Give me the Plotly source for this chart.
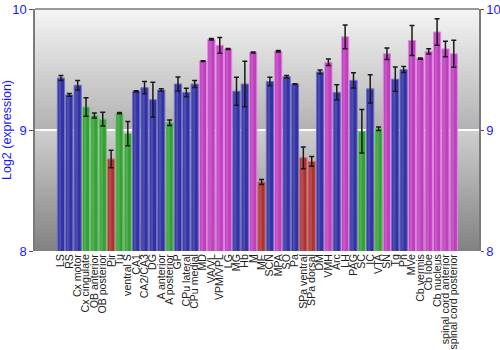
import plotly.graph_objects as go

# Regions of the brain / spinal cord
regions = [
    "LS", "RS", "Cx motor", "Cx cingulate", "OB anterior", "OB posterior", "Pir", "Tu",
    "ventral S", "CA1", "CA2/CA3", "DG", "A anterior", "A posterior", "GP", "CPu lateral",
    "CPu medial", "MD", "VA/VL", "VPM/VPL", "LG", "MG", "Hb", "M", "ME", "SCN", "MPA",
    "SO", "Pa", "SPa ventral", "SPa dorsal", "DM", "VMH", "Arc", "LH", "PAG", "SC", "IC",
    "VTA", "SN", "Tg", "Pn", "MVe", "Cb vermis", "Cb lobe", "Cb nucleus",
    "spinal cord anterior", "spinal cord posterior",
]

# Mean log2 expression per region
expression = [
    9.43, 9.29, 9.37, 9.19, 9.12, 9.09, 8.76, 9.14,
    8.97, 9.32, 9.35, 9.25, 9.33, 9.06, 9.38, 9.31,
    9.38, 9.57, 9.75, 9.70, 9.67, 9.32, 9.38, 9.64, 8.57, 9.40, 9.65,
    9.44, 9.38, 8.77, 8.74, 9.48, 9.56, 9.31, 9.77, 9.41, 8.99, 9.34,
    9.01, 9.63, 9.42, 9.50, 9.74, 9.59, 9.65, 9.81,
    9.67, 9.63,
]

# Standard error per region
std_error = [
    0.02, 0.012, 0.04, 0.077, 0.02, 0.057, 0.073, 0.005,
    0.10, 0.005, 0.051, 0.145, 0.01, 0.022, 0.057, 0.035,
    0.029, 0.003, 0.007, 0.065, 0.004, 0.116, 0.188, 0.004, 0.02, 0.035, 0.006,
    0.01, 0.003, 0.09, 0.04, 0.015, 0.026, 0.063, 0.098, 0.063, 0.18, 0.116,
    0.015, 0.048, 0.10, 0.025, 0.124, 0.005, 0.022, 0.109,
    0.064, 0.112,
]

# Colour group of each bar
groups = [
    "b", "b", "b", "g", "g", "g", "r", "g",
    "g", "b", "b", "b", "b", "g", "b", "b",
    "b", "m", "m", "m", "m", "b", "b", "m", "r", "b", "m",
    "b", "b", "r", "r", "b", "m", "b", "m", "b", "g", "b",
    "g", "m", "b", "b", "m", "m", "m", "m",
    "m", "m",
]

fill = {"b": "#3232a4", "g": "#36a036", "r": "#ad3333", "m": "#bf3fbf"}
edge = {"b": "#7070c8", "g": "#78c878", "r": "#d07070", "m": "#e088e0"}

fig = go.Figure()

# Gradient plot background, one band per unit of the y axis
def band(y0, y1, top_grey, bottom_grey, steps=40):
    shapes = []
    step = (y1 - y0) / steps
    for i in range(steps):
        t = i / (steps - 1)
        g = int(round(bottom_grey + (top_grey - bottom_grey) * t))
        ya = y0 + step * i
        yb = min(y1, ya + step * 1.6)
        shapes.append(dict(type="rect", xref="paper", yref="y", x0=0, x1=1, y0=ya, y1=yb,
                           fillcolor=f"rgb({g},{g},{g})", line=dict(width=0), layer="below"))
    return shapes

shapes = band(9, 10, 244, 178) + band(8, 9, 206, 130)
shapes.append(dict(type="line", xref="paper", yref="paper", x0=0, x1=1, y0=1, y1=1,
                   line=dict(color="#7a7a7a", width=1.5)))

fig.add_trace(go.Bar(
    x=regions, y=expression,
    marker=dict(color=[fill[g] for g in groups],
                line=dict(color=[edge[g] for g in groups], width=1)),
    width=0.86, showlegend=False, hoverinfo="x+y",
))

# Soft highlight stripe on each bar
fig.add_trace(go.Bar(
    x=regions, y=expression,
    marker=dict(color="rgba(255,255,255,0.13)", line=dict(width=0)),
    width=0.3, offset=-0.28, showlegend=False, hoverinfo="skip",
))

fig.add_trace(go.Scatter(
    x=regions, y=expression, mode="markers",
    marker=dict(size=0.1, color="rgba(0,0,0,0)"),
    error_y=dict(type="data", array=std_error, color="#1a1a1a", thickness=1.5, width=2.5),
    showlegend=False, hoverinfo="skip",
))

# Mirror axis carrying the right-hand tick labels
fig.add_trace(go.Scatter(x=[regions[0]], y=[9], yaxis="y2", mode="markers",
                         marker=dict(opacity=0), showlegend=False, hoverinfo="skip"))

tick_font = dict(family="Liberation Sans, Arial, sans-serif", size=13, color="#1a1aff")

fig.update_layout(
    width=500, height=350,
    margin=dict(l=35, r=21, t=9, b=99),
    paper_bgcolor="white", plot_bgcolor="white",
    barmode="overlay",
    shapes=shapes,
    xaxis=dict(
        tickmode="array", tickvals=regions, ticktext=regions,
        tickangle=-90, tickfont=dict(family="Liberation Sans, Arial, sans-serif", size=10.6, color="#222"),
        showgrid=False, ticks="", showline=False, automargin=False,
    ),
    yaxis=dict(
        range=[8, 10], tickvals=[8, 9, 10], ticktext=["8", "9", "10"],
        ticks="outside", ticklen=4, tickcolor="#555", tickfont=tick_font,
        showline=True, linecolor="#7a7a7a", linewidth=1.5,
        showgrid=True, gridcolor="white", gridwidth=2, zeroline=False,
        title=dict(text="Log2 (expression)", standoff=4,
                   font=dict(family="Liberation Sans, Arial, sans-serif", size=12.5, color="#1a1aff")),
        automargin=False,
    ),
    yaxis2=dict(
        overlaying="y", side="right", range=[8, 10], tickvals=[8, 9, 10],
        ticks="outside", ticklen=3, tickcolor="#555", tickfont=tick_font,
        showline=True, linecolor="#7a7a7a", linewidth=1.5,
        showgrid=False, zeroline=False, automargin=False,
    ),
)

fig.write_html("out.html")
